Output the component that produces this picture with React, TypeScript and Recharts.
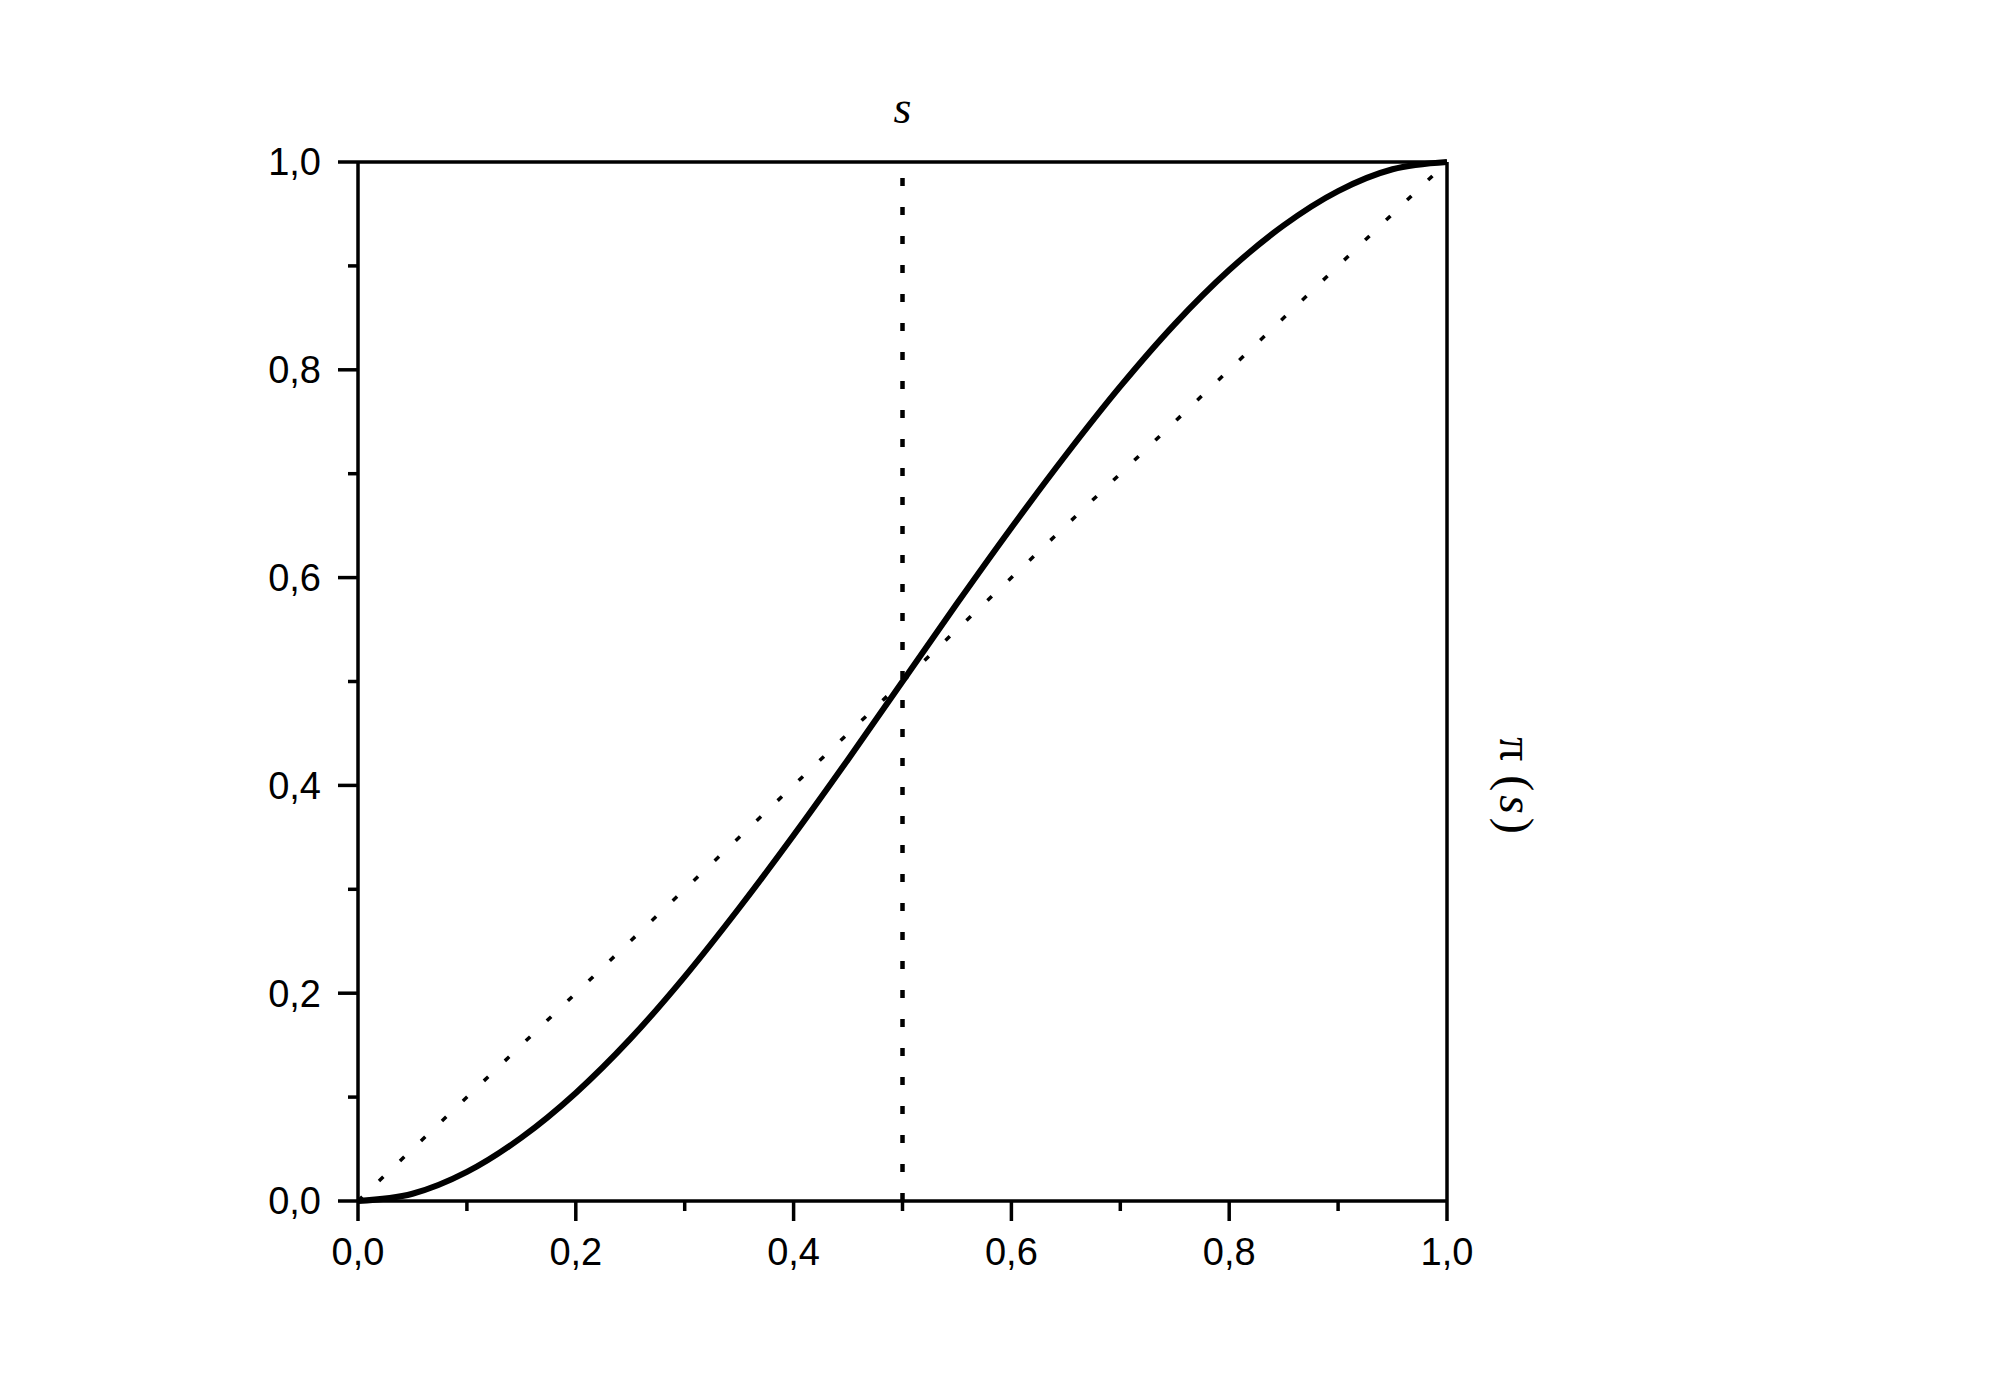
import React from 'react';
import { LineChart, Line, XAxis, YAxis, ReferenceLine, Label } from 'recharts';

// s values along the bottom axis
const sValues = [0, 0.05, 0.1, 0.15, 0.2, 0.25, 0.3, 0.35, 0.4, 0.45, 0.5, 0.55, 0.6, 0.65, 0.7, 0.75, 0.8, 0.85, 0.9, 0.95, 1];
// pi(s)
const piValues = [0, 0.007, 0.028, 0.061, 0.104, 0.156, 0.216, 0.282, 0.352, 0.425, 0.5, 0.575, 0.648, 0.718, 0.784, 0.844, 0.896, 0.939, 0.972, 0.993, 1];
// dotted diagonal reference
const diagS = [0, 1];
const diagPi = [0, 1];
// vertical dotted line position
const markerS = 0.5;

const axisTicks = [0, 0.1, 0.2, 0.3, 0.4, 0.5, 0.6, 0.7, 0.8, 0.9, 1];

const curveData = sValues.map((s, i) => ({ s, pi: piValues[i] }));
const diagData = diagS.map((s, i) => ({ s, pi: diagPi[i] }));

const fmt = (v: number) => v.toFixed(1).replace('.', ',');
const isMajor = (v: number) => Math.abs(v * 5 - Math.round(v * 5)) < 1e-6;

const AXIS_W = 3.5;
const axisLine = { stroke: '#000', strokeWidth: AXIS_W };
const MAJOR = 20;
const MINOR = 10;
const GAP = 17;
const tickFont = { fontSize: 38, fontFamily: '"Liberation Sans", Arial, sans-serif' };
const serif = '"Liberation Serif", "Times New Roman", serif';

// tick line (out on bottom/left, in on top/right) plus label on bottom/left
function EdgeTick(props: any) {
  const { x, y, payload, side } = props;
  const v = payload.value;
  const len = isMajor(v) ? MAJOR : MINOR;
  const showLabel = isMajor(v) && (side === 'bottom' || side === 'left');
  let line;
  let text = null;
  if (side === 'bottom') {
    line = <line x1={x} y1={y} x2={x} y2={y + len} stroke="#000" strokeWidth={AXIS_W} />;
    if (showLabel) text = <text x={x} y={y + MAJOR + GAP} dy="0.71em" textAnchor="middle" fill="#000" style={tickFont}>{fmt(v)}</text>;
  } else if (side === 'left') {
    line = <line x1={x} y1={y} x2={x - len} y2={y} stroke="#000" strokeWidth={AXIS_W} />;
    if (showLabel) text = <text x={x - MAJOR - GAP} y={y} dy="0.355em" textAnchor="end" fill="#000" style={tickFont}>{fmt(v)}</text>;
  } else if (side === 'top') {
    line = <line x1={x} y1={y} x2={x} y2={y + len} stroke="#000" strokeWidth={AXIS_W} />;
  } else {
    line = <line x1={x} y1={y} x2={x - len} y2={y} stroke="#000" strokeWidth={AXIS_W} />;
  }
  return (
    <g>
      {line}
      {text}
    </g>
  );
}

function RightLabel({ viewBox }: any) {
  if (!viewBox) return null;
  const x = viewBox.x + 70;
  const y = viewBox.y + viewBox.height * 0.6;
  return (
    <text
      x={x}
      y={y}
      transform={`rotate(90, ${x}, ${y})`}
      textAnchor="middle"
      dominantBaseline="central"
      fill="#000"
      style={{ fontFamily: serif, fontSize: 48 }}
    >
      <tspan>π</tspan>
      <tspan dx={14}>(</tspan>
      <tspan dx={4} fontStyle="italic">s</tspan>
      <tspan dx={4}>)</tspan>
    </text>
  );
}

export default function App() {
  return (
    <div style={{ position: 'absolute', left: 0, top: 0, width: 2000, height: 1396, background: '#fff' }}>
      <LineChart width={2000} height={1396} margin={{ top: 161, right: 552, bottom: 194, left: 357 }}>
        <XAxis xAxisId="b" type="number" dataKey="s" domain={[0, 1]} ticks={axisTicks} interval={0}
          height={1} tickSize={0} tickMargin={0} tickLine={false} tick={<EdgeTick side="bottom" />}
          axisLine={axisLine} />
        <XAxis xAxisId="t" orientation="top" type="number" domain={[0, 1]} ticks={axisTicks} interval={0}
          height={1} tickSize={0} tickMargin={0} tickLine={false} tick={<EdgeTick side="top" />}
          axisLine={axisLine}>
          <Label value="s" position="top" offset={38} fill="#000"
            style={{ fontFamily: serif, fontStyle: 'italic', fontSize: 46 }} />
        </XAxis>
        <YAxis yAxisId="l" type="number" domain={[0, 1]} ticks={axisTicks} interval={0}
          width={1} tickSize={0} tickMargin={0} tickLine={false} tick={<EdgeTick side="left" />}
          axisLine={axisLine} />
        <YAxis yAxisId="r" orientation="right" type="number" domain={[0, 1]} ticks={axisTicks} interval={0}
          width={1} tickSize={0} tickMargin={0} tickLine={false} tick={<EdgeTick side="right" />}
          axisLine={axisLine}>
          <Label content={<RightLabel />} />
        </YAxis>

        <ReferenceLine xAxisId="b" yAxisId="l" x={markerS} stroke="#000" strokeWidth={4.5} strokeDasharray="8 21" />

        <Line xAxisId="b" yAxisId="l" data={diagData} dataKey="pi" type="linear" stroke="#000"
          strokeWidth={3.5} strokeDasharray="6 23" dot={false} activeDot={false} isAnimationActive={false} />
        <Line xAxisId="b" yAxisId="l" data={curveData} dataKey="pi" type="monotone" stroke="#000"
          strokeWidth={6} dot={false} activeDot={false} isAnimationActive={false} />
      </LineChart>
    </div>
  );
}
